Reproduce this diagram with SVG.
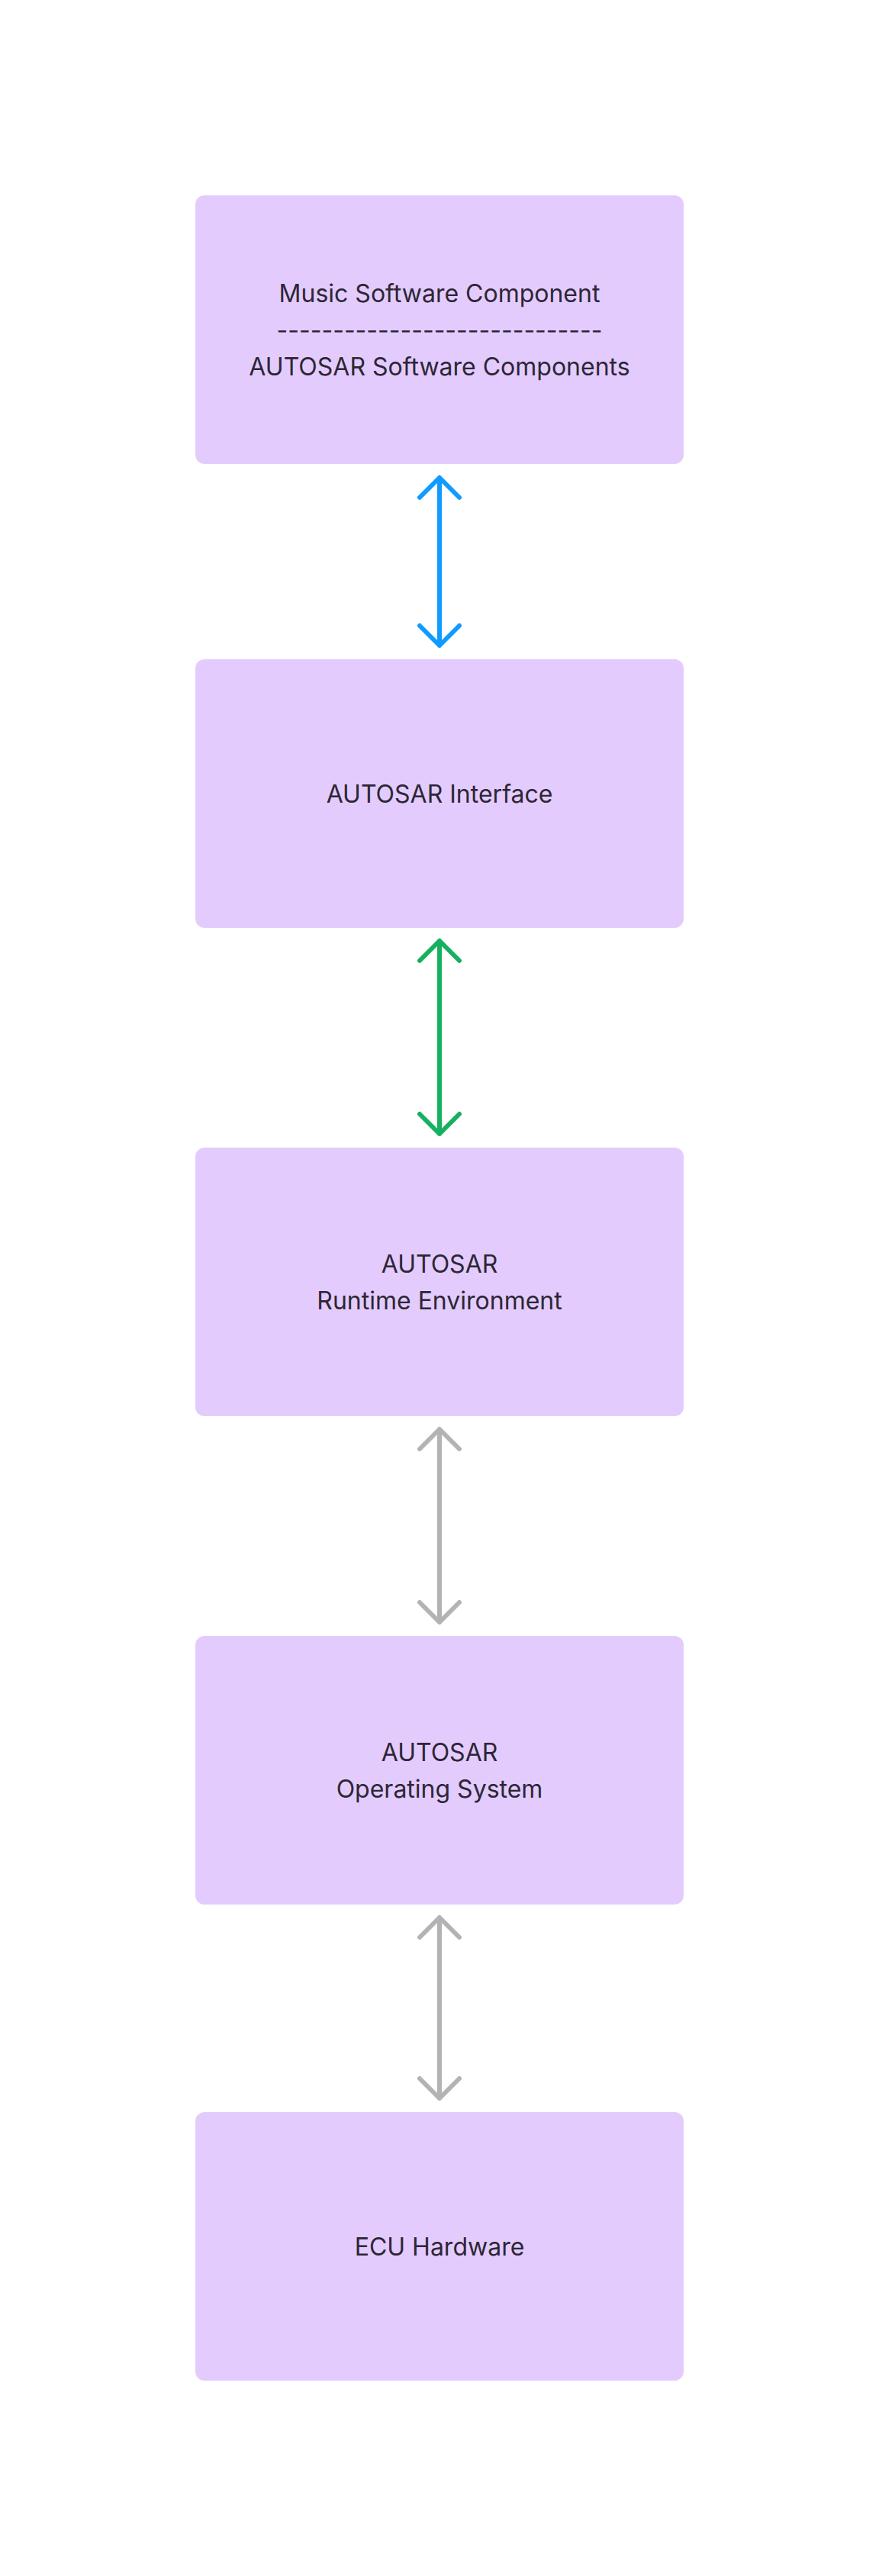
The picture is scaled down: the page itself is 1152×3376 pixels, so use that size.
<svg xmlns="http://www.w3.org/2000/svg" width="1152" height="3376" viewBox="0 0 1152 3376">
<style>
.box{fill:#E3CCFD}
.t{font-family:Inter,"Noto Sans",sans-serif;font-size:32px;fill:#2E2636;text-anchor:middle}
.c{fill:none;stroke-width:6;stroke-linecap:round;stroke-linejoin:round}
.blue{stroke:#109BFF}
.green{stroke:#16B060}
.gray{stroke:#B3B3B3}
</style>
<rect width="1152" height="3376" fill="#FFFFFF"/>
<g id="connectors">
<path class="c blue" d="M576 626V846M550 652L576 626L602 652M550 820L576 846L602 820"/>
<path class="c green" d="M576 1233V1486M550 1259L576 1233L602 1259M550 1460L576 1486L602 1460"/>
<path class="c gray" d="M576 1873V2126M550 1899L576 1873L602 1899M550 2100L576 2126L602 2100"/>
<path class="c gray" d="M576 2513V2750M550 2539L576 2513L602 2539M550 2724L576 2750L602 2724"/>
</g>
<g id="node-swc">
<rect class="box" x="256" y="256" width="640" height="352" rx="12"/>
<text class="t" x="576" y="396">Music Software Component</text>
<text class="t" x="576" y="444">-----------------------------</text>
<text class="t" x="576" y="492">AUTOSAR Software Components</text>
</g>
<g id="node-interface">
<rect class="box" x="256" y="864" width="640" height="352" rx="12"/>
<text class="t" x="576" y="1052">AUTOSAR Interface</text>
</g>
<g id="node-rte">
<rect class="box" x="256" y="1504" width="640" height="352" rx="12"/>
<text class="t" x="576" y="1668">AUTOSAR</text>
<text class="t" x="576" y="1716">Runtime Environment</text>
</g>
<g id="node-os">
<rect class="box" x="256" y="2144" width="640" height="352" rx="12"/>
<text class="t" x="576" y="2308">AUTOSAR</text>
<text class="t" x="576" y="2356">Operating System</text>
</g>
<g id="node-ecu">
<rect class="box" x="256" y="2768" width="640" height="352" rx="12"/>
<text class="t" x="576" y="2956">ECU Hardware</text>
</g>
</svg>
